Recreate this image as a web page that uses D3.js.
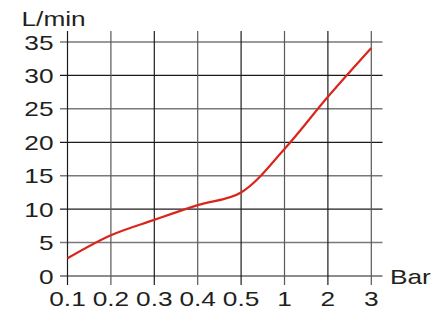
<!DOCTYPE html>
<html>
<head>
<meta charset="utf-8">
<script src="https://cdn.jsdelivr.net/npm/d3@7"></script>
<style>
body { margin: 0; background: #fff; }
text { font-family: "Liberation Sans", Arial, sans-serif; fill: #231f20; }
</style>
</head>
<body>
<svg></svg>
<script>
// pressure categories (Bar) and flow (L/min)
var pressures = ["0.1", "0.2", "0.3", "0.4", "0.5", "1", "2", "3"];
var flow = [2.65, 6.1, 8.4, 10.6, 12.5, 19, 26.8, 34.1];
var yTicks = [0, 5, 10, 15, 20, 25, 30, 35];

var width = 432;
var height = 311;
var fs = 21;
var stretch = "scale(1.25,1)"; // the reference lettering is a wide face

var svg = d3.select("svg")
            .attr("width", width)
            .attr("height", height)

var x = d3.scalePoint()
        .domain(pressures)
        .range([67.5, 371.3])

var y = d3.scaleLinear()
        .domain([0, 35])
        .range([276, 42])

var grid = svg.append("g")

// horizontal grid lines (with little ticks on the left)
grid.selectAll(".hline")
    .data(yTicks)
    .enter().append("line")
    .attr("x1", 60)
    .attr("x2", 382.5)
    .attr("y1", function(d) { return y(d); })
    .attr("y2", function(d) { return y(d); })
    .attr("stroke", function(d, i) { return i % 2 == 0 ? "#1e1b1c" : "#7a7878"; })
    .attr("stroke-width", function(d, i) { return i % 2 == 0 ? 1.2 : 1.5; })

// vertical grid lines
grid.selectAll(".vline")
    .data(pressures)
    .enter().append("line")
    .attr("x1", function(d) { return x(d); })
    .attr("x2", function(d) { return x(d); })
    .attr("y1", 31)
    .attr("y2", 285)
    .attr("stroke", function(d, i) { return i % 2 == 0 ? "#1e1b1c" : "#5a5858"; })
    .attr("stroke-width", 1.2)

function label(px, py, anchor, txt) {
    svg.append("text")
        .attr("transform", "translate(" + px + "," + py + ") " + stretch)
        .attr("text-anchor", anchor)
        .attr("font-size", fs)
        .text(txt)
}

// y labels
yTicks.forEach(function(d) { label(53.5, y(d) + 7.5, "end", d); })

// x labels
pressures.forEach(function(d) { label(x(d), 305.5, "middle", d); })

label(21.5, 25.5, "start", "L/min")
label(390, 284, "start", "Bar")

// the flow curve
var lineFunction = d3.line()
                    .x(function(d, i) { return x(pressures[i]); })
                    .y(function(d) { return y(d); })
                    .curve(d3.curveCatmullRom)

svg.append("path")
    .attr("d", lineFunction(flow))
    .attr("stroke", "#d9261c")
    .attr("stroke-width", 2.2)
    .attr("fill", "none")
</script>
</body>
</html>
